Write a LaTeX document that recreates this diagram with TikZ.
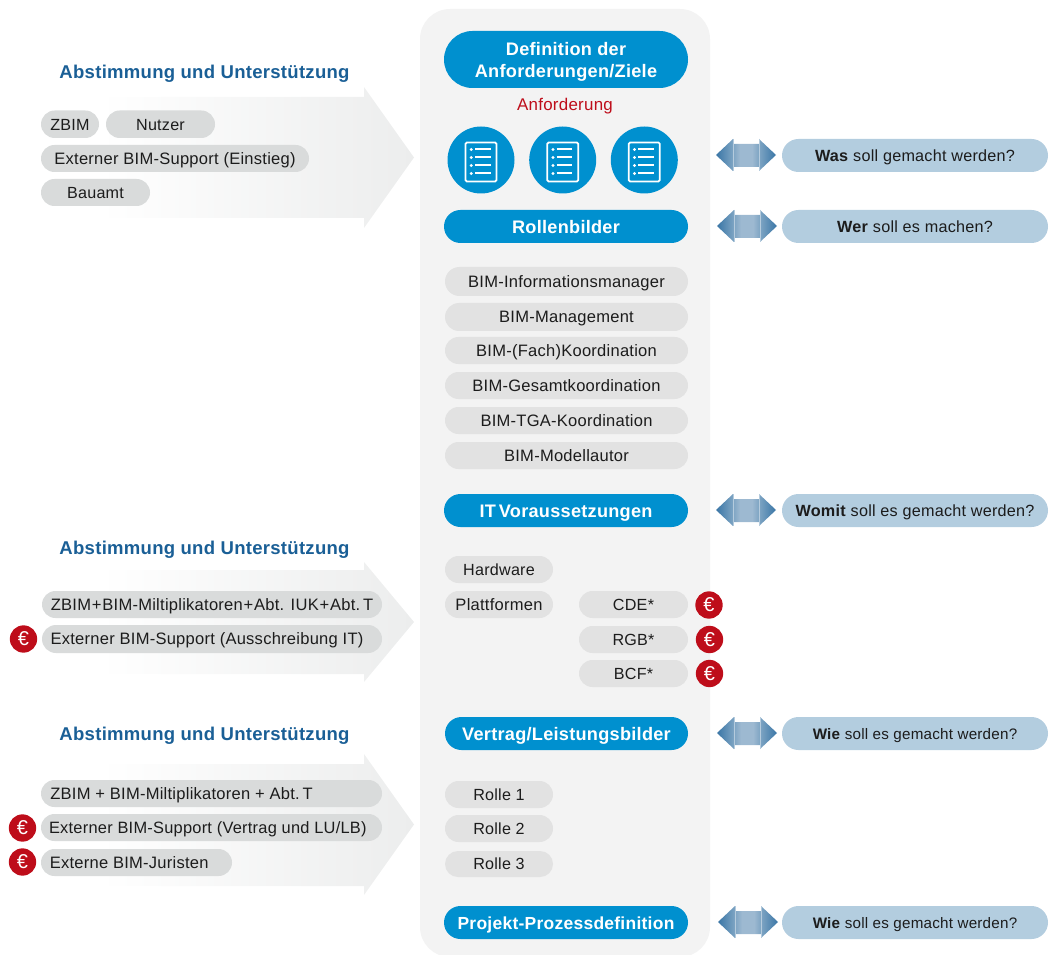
\documentclass[tikz,border=0pt]{standalone}
\usepackage{fontspec}
\setmainfont{Liberation Sans}[LetterSpace=1.5]
\usetikzlibrary{calc}
\definecolor{panelc}{HTML}{F3F3F3}
\definecolor{blueh}{HTML}{0090CF}
\definecolor{greyin}{HTML}{E2E2E2}
\definecolor{greyout}{HTML}{D9DBDB}
\definecolor{steel}{HTML}{B3CDDF}
\definecolor{eurored}{HTML}{BE0D1A}
\definecolor{titleblue}{HTML}{1A5F96}
\definecolor{txt}{HTML}{1C1C1C}
\definecolor{arrowend}{HTML}{ECEDED}
\definecolor{dark}{HTML}{3A76A6}
\definecolor{midb}{HTML}{7DA4C3}
\definecolor{lightb}{HTML}{9DB9D1}
\definecolor{seam}{HTML}{B5CBDD}
\pgfdeclarehorizontalshading{dblshade}{100bp}{color(0bp)=(dark); color(25bp)=(dark); color(39bp)=(midb); color(45bp)=(lightb); color(55bp)=(lightb); color(61bp)=(midb); color(75bp)=(dark); color(100bp)=(dark)}
\tikzset{
  x=0.75pt,y=-0.75pt,
  pillbase/.style={rectangle,inner sep=0pt,outer sep=0pt,align=center,text=txt,text height=9.7pt,text depth=0.9pt,font=\fontsize{12.4}{14}\selectfont},
  compact/.style={font=\fontsize{12.1}{14}\selectfont},
  smallq/.style={font=\fontsize{11.4}{14}\selectfont},
  greyinner/.style={pillbase,fill=greyin},
  greyouter/.style={pillbase,fill=greyout},
  bluehead/.style={pillbase,fill=blueh,text=white,text height=11pt,text depth=1pt,font=\fontsize{13.6}{16.5}\selectfont\bfseries},
  question/.style={pillbase,fill=steel,text=txt,font=\fontsize{12.15}{14}\selectfont},
  coin/.style={circle,fill=eurored,text=white,inner sep=0pt,minimum size=20.5pt,font=\fontsize{15}{15}\selectfont},
  iconcircle/.style={circle,fill=blueh,inner sep=0pt,minimum size=50.25pt},
  heading/.style={text=titleblue,inner sep=0pt,text height=10pt,text depth=0pt,font=\fontsize{13.9}{16}\selectfont\bfseries},
  bigarrow/.style={left color=white,right color=arrowend,draw=none},
}
% style, name, x1, x2, y1, y2, text
\newcommand{\pill}[7]{%
  \node[#1,minimum width={(#4-#3)*0.75pt},minimum height={(#6-#5)*0.75pt},rounded corners={(#6-#5)*0.375pt-0.01pt}]
    (#2) at ({(#3+#4)/2},{(#5+#6)/2}) {#7};}
% name, cx, cy
\newcommand{\doc}[3]{%
  \node[iconcircle] (#1) at (#2,#3) {};
  \begin{scope}[shift={(#2,#3)},white]
    \draw[rounded corners=1pt,line width=1.3pt] (-15.5,-17.5) rectangle (15.5,21.5);
    \foreach \yy in {-10.5,-2.5,5.5,13.5}{
      \draw[line width=1.5pt] (-6,\yy) -- (9.7,\yy);
      \fill (-9.8,\yy) circle (1.6);
    }
  \end{scope}}
% x-start, cy
\newcommand{\dbl}[2]{%
  \begin{scope}[shift={(#1,#2)}]
    \shade[shading=dblshade] (0,0) -- (17,-16) -- (17,-11) -- (43,-11) -- (43,-16) -- (60,0) -- (43,16) -- (43,12) -- (17,12) -- (17,16) -- cycle;
    \draw[seam,line width=0.4pt] (17,-16) -- (17,16) (43,-16) -- (43,16);
  \end{scope}}
% y-top of head, y-top of body, y-bottom of body, y-bottom of head
\newcommand{\bigarr}[4]{%
  \shade[bigarrow] (100,#2) -- (364,#2) -- (364,#1) -- (414,{(#1+#4)/2}) -- (364,#4) -- (364,#3) -- (100,#3) -- cycle;}
\newcommand{\plusb}{\hspace{0.05em}+\hspace{0.05em}}
\begin{document}
\begin{tikzpicture}
\useasboundingbox (0,0) rectangle (1052,955);
\fill[panelc,rounded corners=22.5pt] (420,9) rectangle (710,957);

% left arrows
\bigarr{87}{97}{218}{228}
\bigarr{562}{570}{674}{682}
\bigarr{754}{764}{886}{895}

% headings
\node[heading] (h1) at (204.5,72) {Abstimmung und Unterstützung};
\node[heading] (h2) at (204.5,548) {Abstimmung und Unterstützung};
\node[heading] (h3) at (204.5,734) {Abstimmung und Unterstützung};

% left group 1
\pill{greyouter,compact}{l1}{41}{99}{110.5}{138}{ZBIM}
\pill{greyouter,compact}{l2}{106}{215}{110.5}{138}{Nutzer}
\pill{greyouter}{l3}{41}{309}{145}{172}{Externer BIM-Support (Einstieg)}
\pill{greyouter,compact}{l4}{41}{150}{179}{206}{Bauamt}
% left group 2
\pill{greyouter}{m1}{42}{382}{591}{618}{ZBIM\plusb BIM-Miltiplikatoren\plusb Abt. IUK\plusb Abt.\,T}
\pill{greyouter}{m2}{42}{382}{625}{653}{Externer BIM-Support (Ausschreibung IT)\hspace*{7.5pt}}
\node[coin] (me) at (23.5,639) {€};
% left group 3
\pill{greyouter}{n1}{41}{382}{780}{807}{ZBIM + BIM-Miltiplikatoren + Abt.\,T\hspace*{45pt}}
\pill{greyouter,font=\fontsize{12.3}{14}\selectfont}{n2}{41}{382}{814}{841}{Externer BIM-Support (Vertrag und LU/LB)\hspace*{5.5pt}}
\pill{greyouter}{n3}{41}{232}{849}{876}{Externe BIM-Juristen\hspace*{11pt}}
\node[coin] (ne2) at (22.5,828) {€};
\node[coin] (ne3) at (22.5,862) {€};

% centre column
\pill{bluehead,text height=,text depth=0pt}{b1}{444}{688}{31}{88}{Definition der\\Anforderungen/Ziele}
\node[text=eurored,inner sep=0pt,text height=9.5pt,text depth=1pt,font=\fontsize{12.7}{14}\selectfont] (anf) at (565,105) {Anforderung};
\doc{c1}{481}{160}
\doc{c2}{562.7}{160}
\doc{c3}{644.3}{160}
\pill{bluehead}{b2}{444}{688}{210}{243}{Rollenbilder}
\pill{greyinner}{r1}{445}{688}{267}{296}{BIM-Informationsmanager}
\pill{greyinner}{r2}{445}{688}{303}{331}{BIM-Management}
\pill{greyinner}{r3}{445}{688}{337}{364}{BIM-(Fach)Koordination}
\pill{greyinner}{r4}{445}{688}{372}{399}{BIM-Gesamtkoordination}
\pill{greyinner}{r5}{445}{688}{407}{434}{BIM-TGA-Koordination}
\pill{greyinner}{r6}{445}{688}{442}{469}{BIM-Modellautor}
\pill{bluehead}{b3}{444}{688}{494}{527}{IT\,Voraussetzungen}
\pill{greyinner,compact}{i1}{445}{553}{556}{583}{Hardware}
\pill{greyinner}{i2}{445}{553}{591}{618}{Plattformen}
\pill{greyinner,compact}{i3}{579}{688}{591}{618}{CDE*}
\pill{greyinner,compact}{i4}{579}{688}{626}{653}{RGB*}
\pill{greyinner,compact}{i5}{579}{688}{660}{687}{BCF*}
\node[coin] (ie3) at (709,605) {€};
\node[coin] (ie4) at (709.5,639.5) {€};
\node[coin] (ie5) at (709.5,673.5) {€};
\pill{bluehead}{b4}{445}{688}{717}{750}{Vertrag/Leistungsbilder}
\pill{greyinner,compact}{v1}{445}{553}{781}{808}{Rolle 1}
\pill{greyinner,compact}{v2}{445}{553}{815}{842}{Rolle 2}
\pill{greyinner,compact}{v3}{445}{553}{851}{877}{Rolle 3}
\pill{bluehead,font=\fontsize{13.1}{16}\selectfont\bfseries}{b5}{444}{688}{906}{939}{Projekt-Prozessdefinition}

% right column
\dbl{716}{155}
\dbl{717}{226}
\dbl{716}{510}
\dbl{717}{733}
\dbl{718}{922}
\pill{question}{q1}{782}{1048}{139}{172}{\textbf{Was} soll gemacht werden?}
\pill{question}{q2}{782}{1048}{210}{243}{\textbf{Wer} soll es machen?}
\pill{question}{q3}{782}{1048}{494}{527}{\textbf{Womit} soll es gemacht werden?}
\pill{question,smallq}{q4}{782}{1048}{717}{750}{\textbf{Wie} soll es gemacht werden?}
\pill{question,smallq}{q5}{782}{1048}{906}{939}{\textbf{Wie} soll es gemacht werden?}
\end{tikzpicture}
\end{document}
